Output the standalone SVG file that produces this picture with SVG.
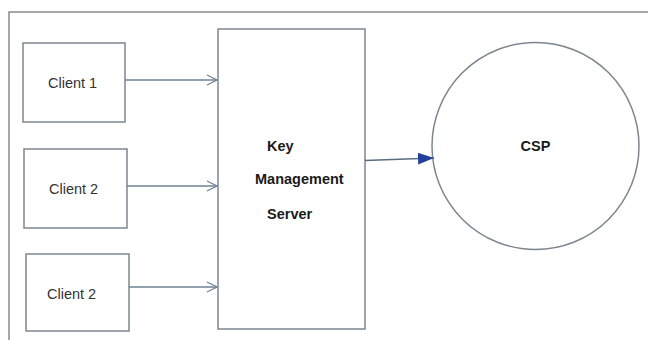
<svg xmlns="http://www.w3.org/2000/svg" width="648" height="340" viewBox="0 0 648 340">
  <defs>
    <style>
      .frame { stroke: #8a8a8a; stroke-width: 1.5; fill: none; }
      .box { fill: #ffffff; stroke: #7d8690; stroke-width: 1.5; }
      .label { font-family: "Liberation Sans", Arial, sans-serif; font-size: 14.5px; fill: #333333; }
      .bold { font-weight: bold; fill: #1a1a1a; }
      .link { stroke: #6f8294; stroke-width: 1.5; fill: none; }
      .main { stroke: #5a6c82; stroke-width: 1.5; fill: none; }
    </style>
    <marker id="open" viewBox="0 0 12 12" refX="11" refY="6" markerWidth="12" markerHeight="12" markerUnits="userSpaceOnUse" orient="auto">
      <path d="M1,1 L11,6 L1,11" fill="none" stroke="#6f8294" stroke-width="1.2"/>
    </marker>
    <marker id="solid" viewBox="0 0 16 12" refX="16" refY="6" markerWidth="16" markerHeight="12" markerUnits="userSpaceOnUse" orient="auto">
      <path d="M0,0 L16,6 L0,12 Z" fill="#23409a"/>
    </marker>
  </defs>

  <!-- outer frame (top and left edges) -->
  <path class="frame" d="M9,340 L9,12 L648,12"/>

  <g id="client1">
    <rect class="box" x="23" y="43" width="102" height="79"/>
    <text class="label" x="48" y="88">Client 1</text>
  </g>
  <g id="client2a">
    <rect class="box" x="24" y="149" width="103" height="79"/>
    <text class="label" x="49" y="194">Client 2</text>
  </g>
  <g id="client2b">
    <rect class="box" x="26" y="254" width="103" height="77"/>
    <text class="label" x="47" y="299">Client 2</text>
  </g>

  <g id="kms">
    <rect class="box" x="218" y="29" width="147" height="300"/>
    <text class="label bold" x="267" y="151">Key</text>
    <text class="label bold" x="255" y="184">Management</text>
    <text class="label bold" x="267" y="219">Server</text>
  </g>

  <g id="csp">
    <circle class="box" cx="535.5" cy="146" r="103.5"/>
    <text class="label bold" x="535.5" y="151" text-anchor="middle">CSP</text>
  </g>

  <g id="connectors">
    <line class="link" x1="125" y1="80" x2="217" y2="80" marker-end="url(#open)"/>
    <line class="link" x1="127" y1="186" x2="217" y2="186" marker-end="url(#open)"/>
    <line class="link" x1="129" y1="287" x2="217" y2="287" marker-end="url(#open)"/>
    <line class="main" x1="365" y1="160.5" x2="434" y2="158" marker-end="url(#solid)"/>
  </g>
</svg>
